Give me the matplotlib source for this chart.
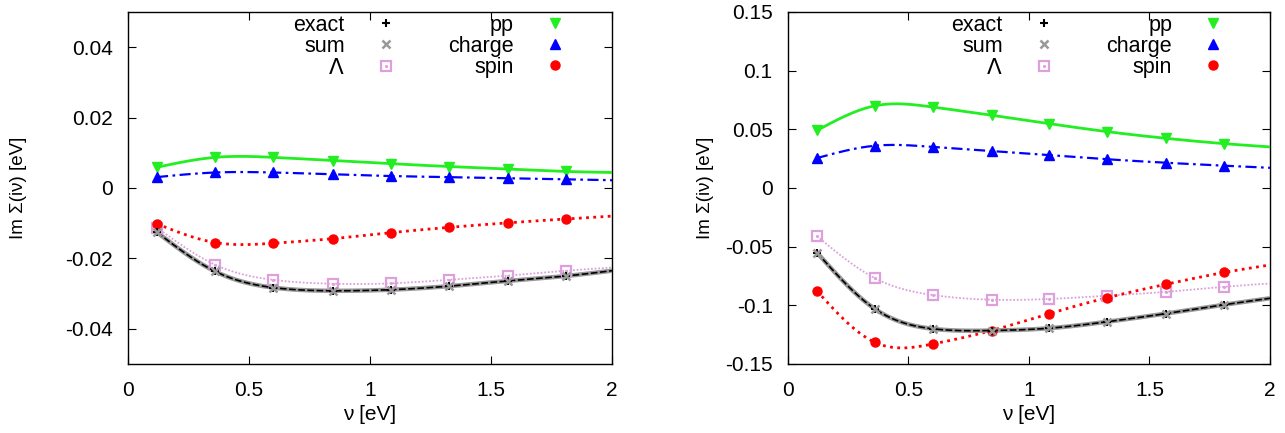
import numpy as np
import matplotlib
matplotlib.use("Agg")
import matplotlib.pyplot as plt
from matplotlib.lines import Line2D

plt.rcParams['font.family'] = ['Liberation Sans', 'DejaVu Sans']
plt.rcParams['axes.unicode_minus'] = False

# Matsubara frequencies [eV] (markers); curves run on to 2 eV
nu = [0.12, 0.36, 0.60, 0.845, 1.085, 1.325, 1.57, 1.81]
nu_end = 2.0

series = ["exact", "sum", "Lambda", "pp", "charge", "spin"]

# left panel
left_exact = [-0.0126, -0.0237, -0.0283, -0.0292, -0.0289, -0.0279, -0.0264, -0.0250]
left_sum = [-0.0126, -0.0237, -0.0283, -0.0292, -0.0289, -0.0279, -0.0264, -0.0250]
left_lambda = [-0.0113, -0.0218, -0.0261, -0.0272, -0.0271, -0.0261, -0.0249, -0.0235]
left_pp = [0.0059, 0.0087, 0.0087, 0.0078, 0.0069, 0.0061, 0.0054, 0.0047]
left_charge = [0.0031, 0.0044, 0.0044, 0.0039, 0.0034, 0.0031, 0.0028, 0.0025]
left_spin = [-0.0102, -0.0155, -0.0157, -0.0144, -0.0127, -0.0112, -0.0099, -0.0088]
left_end = [-0.0235, -0.0235, -0.0226, 0.0044, 0.0022, -0.0080]

# right panel
right_exact = [-0.0550, -0.1030, -0.1200, -0.1215, -0.1195, -0.1140, -0.1070, -0.0995]
right_sum = [-0.0550, -0.1030, -0.1200, -0.1215, -0.1195, -0.1140, -0.1070, -0.0995]
right_lambda = [-0.0410, -0.0768, -0.0912, -0.0952, -0.0946, -0.0918, -0.0885, -0.0842]
right_pp = [0.0490, 0.0700, 0.0690, 0.0620, 0.0548, 0.0480, 0.0423, 0.0378]
right_charge = [0.0255, 0.0360, 0.0350, 0.0315, 0.0280, 0.0245, 0.0215, 0.0190]
right_spin = [-0.0878, -0.1315, -0.1330, -0.1215, -0.1070, -0.0935, -0.0820, -0.0720]
right_end = [-0.0940, -0.0940, -0.0814, 0.0350, 0.0172, -0.0656]

left_yticks = [-0.04, -0.02, 0, 0.02, 0.04]
right_yticks = [-0.15, -0.1, -0.05, 0, 0.05, 0.1, 0.15]
xticks = [0, 0.5, 1, 1.5, 2]


def natural_spline(x, y, n=300):
    """smooth curve through the given nodes (natural cubic spline)"""
    x = np.asarray(x, float)
    y = np.asarray(y, float)
    m = len(x)
    h = np.diff(x)
    A = np.zeros((m, m))
    b = np.zeros(m)
    A[0, 0] = A[-1, -1] = 1
    for i in range(1, m - 1):
        A[i, i - 1] = h[i - 1]
        A[i, i] = 2 * (h[i - 1] + h[i])
        A[i, i + 1] = h[i]
        b[i] = 3 * ((y[i + 1] - y[i]) / h[i] - (y[i] - y[i - 1]) / h[i - 1])
    c = np.linalg.solve(A, b)
    xs = np.linspace(x[0], x[-1], n)
    idx = np.clip(np.searchsorted(x, xs) - 1, 0, m - 2)
    dx = xs - x[idx]
    bb = (y[idx + 1] - y[idx]) / h[idx] - h[idx] * (2 * c[idx] + c[idx + 1]) / 3
    dd = (c[idx + 1] - c[idx]) / (3 * h[idx])
    ys = y[idx] + bb * dx + c[idx] * dx ** 2 + dd * dx ** 3
    return xs, ys


styles = {
    "exact": dict(line=dict(color="black", lw=1.2, ls=(0, (4, 1.5)), zorder=5),
                  mk=dict(marker="+", color="black", ms=6, mew=1.5, zorder=6)),
    "sum": dict(line=dict(color="#999999", lw=3.2, ls="-", zorder=4),
                mk=dict(marker="x", color="#999999", ms=6, mew=1.8, zorder=7)),
    "Lambda": dict(line=dict(color="#dda0dd", lw=1.3, ls=(0, (1, 1)), zorder=3),
                   mk=dict(marker="s", color="#dda0dd", ms=7.5, mfc="none", mew=1.6, zorder=4)),
    "pp": dict(line=dict(color="#22ee22", lw=2.0, ls="-", zorder=3),
               mk=dict(marker="v", color="#22ee22", ms=7.5, zorder=4)),
    "charge": dict(line=dict(color="#0000ff", lw=1.6, ls=(0, (5, 2, 1.2, 2)), zorder=3),
                   mk=dict(marker="^", color="#0000ff", ms=7.5, zorder=4)),
    "spin": dict(line=dict(color="#ff0000", lw=2.0, ls=(0, (1, 1.6)), zorder=3),
                 mk=dict(marker="o", color="#ff0000", ms=6.5, zorder=4)),
}
labels = {"exact": "exact", "sum": "sum", "Lambda": r"$\Lambda$",
          "pp": "pp", "charge": "charge", "spin": "spin"}


def draw_panel(ax, data, ends, ylim, yticks, ylabelpad):
    for name, vals, end in zip(series, data, ends):
        st = styles[name]
        xs, ys = natural_spline(nu + [nu_end], vals + [end])
        ax.plot(xs, ys, **st["line"])
        ax.plot(nu, vals, ls="none", **st["mk"])
        if name == "Lambda":
            ax.plot(nu, vals, ls="none", marker=".", color="#dda0dd", ms=2.5, zorder=4)

    ax.set_xlim(0, 2)
    ax.set_ylim(*ylim)
    ax.set_xticks(xticks)
    ax.set_xticklabels(["%g" % t for t in xticks])
    ax.set_yticks(yticks)
    ax.set_yticklabels(["%g" % t for t in yticks])
    ax.tick_params(direction="in", top=True, right=True, length=6, width=0.8,
                   labelsize=15)
    ax.tick_params(axis="y", pad=11)
    ax.tick_params(axis="x", pad=12)
    for sp in ax.spines.values():
        sp.set_linewidth(1.0)
    ax.set_xlabel("ν [eV]", fontsize=15, labelpad=4)
    ax.set_ylabel("Im Σ(iν) [eV]", fontsize=13.5, labelpad=ylabelpad)

    # legend with markers only, text right-aligned before the marker
    handles = []
    for name in series:
        mk = dict(styles[name]["mk"])
        mk.pop("zorder")
        h = Line2D([], [], ls="none", **mk)
        if name == "Lambda":
            h = (h, Line2D([], [], ls="none", marker=".", color="#dda0dd", ms=2.5))
        handles.append(h)
    leg = ax.legend(handles, [labels[n] for n in series], ncol=2, markerfirst=False,
                    frameon=False, loc="upper right", bbox_to_anchor=(0.922, 1.017),
                    fontsize=15.5, handlelength=1.0, handletextpad=1.4,
                    columnspacing=2.42, labelspacing=0.0, borderaxespad=0.0)
    leg.get_texts()[2].set_fontfamily("DejaVu Serif")


fig = plt.figure(figsize=(12.85, 4.33), dpi=100)
ax1 = fig.add_axes([0.0996, 0.1594, 0.3767, 0.8129])
ax2 = fig.add_axes([0.6132, 0.1594, 0.3751, 0.8129])

draw_panel(ax1,
           [left_exact, left_sum, left_lambda, left_pp, left_charge, left_spin],
           left_end, (-0.05, 0.05), left_yticks, 27)
draw_panel(ax2,
           [right_exact, right_sum, right_lambda, right_pp, right_charge, right_spin],
           right_end, (-0.15, 0.15), right_yticks, 8)

fig.savefig("out.png", dpi=100)
